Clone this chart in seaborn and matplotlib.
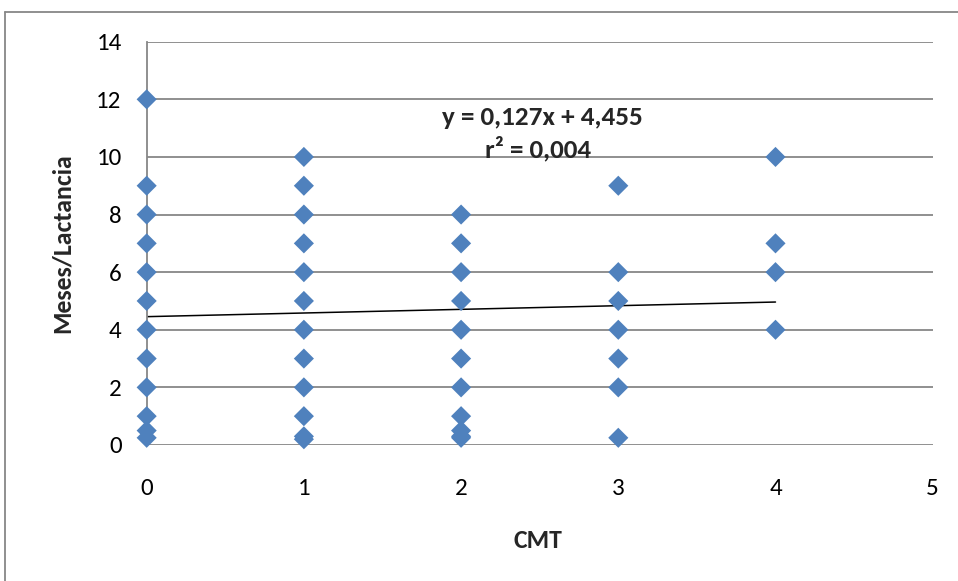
import numpy as np
import pandas as pd
import matplotlib
matplotlib.use("Agg")
import matplotlib.pyplot as plt
import seaborn as sns
from matplotlib.lines import Line2D

# Data
cmt_0 = [0, 0, 0, 0, 0, 0, 0, 0, 0, 0, 0, 0]
mes_0 = [12, 9, 8, 7, 6, 5, 4, 3, 2, 1, 0.5, 0.25]
cmt_1 = [1, 1, 1, 1, 1, 1, 1, 1, 1, 1, 1, 1]
mes_1 = [10, 9, 8, 7, 6, 5, 4, 3, 2, 1, 0.3, 0.2]
cmt_2 = [2, 2, 2, 2, 2, 2, 2, 2, 2, 2, 2]
mes_2 = [8, 7, 6, 5, 4, 3, 2, 1, 0.5, 0.3, 0.25]
cmt_3 = [3, 3, 3, 3, 3, 3, 3]
mes_3 = [9, 6, 5, 4, 3, 2, 0.25]
cmt_4 = [4, 4, 4, 4]
mes_4 = [10, 7, 6, 4]

slope = 0.127
intercept = 4.455
trend_x = [0, 4]

x_ticks = [0, 1, 2, 3, 4, 5]
y_ticks = [0, 2, 4, 6, 8, 10, 12, 14]
eq_text = "y = 0,127x + 4,455"
r2_text = "r² = 0,004"

df = pd.DataFrame({
    "CMT": cmt_0 + cmt_1 + cmt_2 + cmt_3 + cmt_4,
    "Meses": mes_0 + mes_1 + mes_2 + mes_3 + mes_4,
})
trend = pd.DataFrame({"x": trend_x})
trend["y"] = intercept + slope * trend["x"]

sns.set_theme(style="white")
plt.rcParams["font.family"] = ["Carlito", "DejaVu Sans"]

fig = plt.figure(figsize=(9.58, 5.81), dpi=100)
ax = fig.add_axes([0.1531, 0.2341, 0.8205, 0.6941])

for yv in y_ticks:
    ax.axhline(yv, color="#878787", lw=1.3, zorder=0)

sns.lineplot(data=trend, x="x", y="y", ax=ax, color="black", lw=1.1, zorder=2)
sns.scatterplot(data=df, x="CMT", y="Meses", ax=ax, marker="D", s=105,
                color="#4F81BD", edgecolor="none", zorder=3, clip_on=False)

ax.set_xlim(0, 5)
ax.set_ylim(0, 14)
ax.set_xticks(x_ticks)
ax.set_yticks(y_ticks)
ax.set_xticklabels([str(v) for v in x_ticks])
ax.set_yticklabels([str(v) for v in y_ticks])
ax.tick_params(axis="both", length=0, labelsize=18, colors="black")
ax.tick_params(axis="y", pad=18)
ax.tick_params(axis="x", pad=24)

for s in ["top", "right", "bottom"]:
    ax.spines[s].set_visible(False)
ax.spines["left"].set_color("#878787")
ax.spines["left"].set_linewidth(1.3)

ax.set_xlabel("CMT", fontsize=18.5, fontweight="bold", va="center")
ax.xaxis.set_label_coords(0.4975, -0.238)
ax.set_ylabel("Meses/Lactancia", fontsize=18.5, fontweight="bold", va="center")
ax.yaxis.set_label_coords(-0.1078, 0.5)

ax.text(2.52, 11.38, eq_text, fontsize=19.5, fontweight="bold", ha="center", va="center")
ax.text(2.49, 10.28, r2_text, fontsize=19.5, fontweight="bold", ha="center", va="center")

# outer chart frame
fig.add_artist(Line2D([5/958, 5/958], [0, 1 - 12/581], color="#878787", lw=1.3))
fig.add_artist(Line2D([5/958, 1], [1 - 12/581, 1 - 12/581], color="#878787", lw=1.3))

fig.savefig("out.png", dpi=100)
